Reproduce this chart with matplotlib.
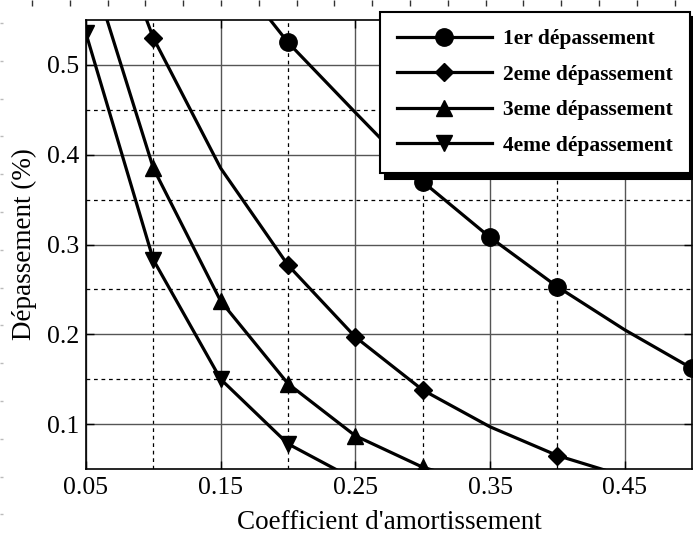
import matplotlib.pyplot as plt
from matplotlib.ticker import FixedLocator
import numpy as np

plt.rcParams['font.family'] = ['Liberation Serif', 'DejaVu Serif']

# Donnees
zeta = [0.05, 0.10, 0.15, 0.20, 0.25, 0.30, 0.35, 0.40, 0.45, 0.50]
d1 = [0.85, 0.73, 0.62, 0.525, 0.447, 0.370, 0.308, 0.253, 0.205, 0.162]
d2 = [0.73, 0.530, 0.385, 0.277, 0.197, 0.138, 0.097, 0.065, 0.042, 0.026]
d3 = [0.625, 0.385, 0.237, 0.145, 0.087, 0.052, 0.030, 0.017, 0.009, 0.004]
d4 = [0.535, 0.283, 0.150, 0.078, 0.038, 0.019, 0.009, 0.004, 0.002, 0.001]

series = [
    ('1er dépassement', d1, 'o', 12.5, [3, 5, 6, 7, 9]),
    ('2eme dépassement', d2, 'D', 9, [1, 3, 4, 5, 7]),
    ('3eme dépassement', d3, '^', 12, [1, 2, 3, 4, 5]),
    ('4eme dépassement', d4, 'v', 12, [0, 1, 2, 3]),
]

fig = plt.figure(figsize=(6.93, 5.38), dpi=100)

# petites graduations du cadre exterieur
bg = fig.add_axes([0, 0, 1, 1], zorder=0)
bg.set_xlim(0, 693)
bg.set_ylim(538, 0)
bg.patch.set_visible(False)
for s in bg.spines.values():
    s.set_visible(False)
bg.xaxis.tick_top()
bg.set_xticks(np.arange(32, 693, 37.8))
bg.set_yticks(np.arange(23, 538, 37.8))
bg.tick_params(axis='x', direction='in', length=4, width=1, colors='#333333', labeltop=False)
bg.tick_params(axis='y', direction='in', length=2, width=1, colors='#bbbbbb', labelleft=False)

ax = fig.add_axes([86 / 693, 69 / 538, 606 / 693, 449 / 538], zorder=1)

for label, vals, mk, ms, idx in series:
    ax.plot(zeta, vals, color='black', lw=2.3, marker=mk, markersize=ms,
            markevery=idx, label=label)

ax.set_xlim(0.05, 0.5)
ax.set_ylim(0.05, 0.55)
ax.xaxis.set_major_locator(FixedLocator([0.05, 0.15, 0.25, 0.35, 0.45]))
ax.xaxis.set_minor_locator(FixedLocator([0.10, 0.20, 0.30, 0.40]))
ax.yaxis.set_major_locator(FixedLocator([0.1, 0.2, 0.3, 0.4, 0.5]))
ax.yaxis.set_minor_locator(FixedLocator([0.15, 0.25, 0.35, 0.45]))
ax.xaxis.set_major_formatter(plt.FuncFormatter(lambda v, p: '%.2f' % v))
ax.yaxis.set_major_formatter(plt.FuncFormatter(lambda v, p: '%.1f' % v))

ax.grid(which='major', color='#555555', lw=1.0, ls='-')
ax.grid(which='minor', color='black', lw=0.9, ls=(0, (3, 3)))
ax.set_axisbelow(True)
ax.tick_params(which='major', direction='in', length=6, width=1, top=True, right=True,
               labelsize=18.5)
ax.tick_params(axis='x', which='major', pad=6)
ax.tick_params(axis='y', which='major', pad=5)
ax.tick_params(which='minor', length=0)
for s in ax.spines.values():
    s.set_linewidth(1.2)

ax.set_xlabel("Coefficient d'amortissement", fontsize=19.5, labelpad=8)
ax.set_ylabel('Dépassement (%)', fontsize=19.5, labelpad=7)

leg = ax.legend(loc='upper left', bbox_to_anchor=(0.485, 1.018), borderaxespad=0,
                prop={'weight': 'bold', 'size': 15.5}, handlelength=4.4,
                handletextpad=0.5, labelspacing=0.72, borderpad=0.8,
                fancybox=False, framealpha=1, edgecolor='black',
                shadow={'color': 'black', 'alpha': 1, 'ox': 4, 'oy': -4})
leg.get_frame().set_linewidth(1.5)

plt.savefig('out.png', dpi=100)
